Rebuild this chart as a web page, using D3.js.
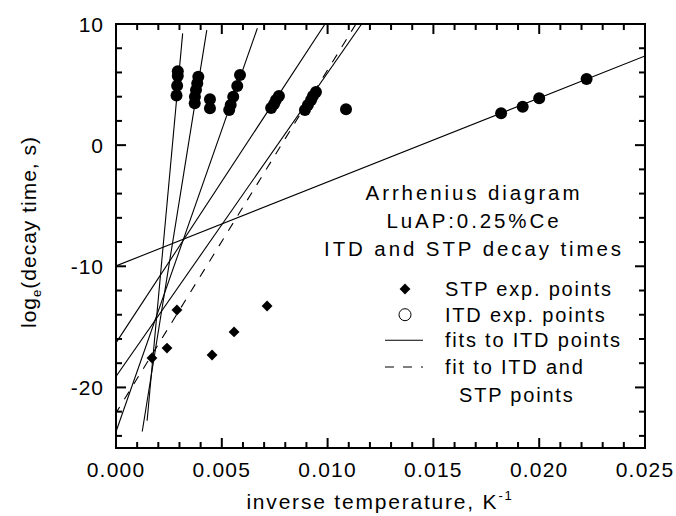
<!DOCTYPE html>
<html><head><meta charset="utf-8">
<script src="https://cdn.jsdelivr.net/npm/d3@7"></script>
<style>
body{margin:0;background:#fff;}
text{font-family:"Liberation Sans",Arial,Helvetica,sans-serif;fill:#000;}
</style></head>
<body><svg id="c" width="676" height="516"></svg>
<script>
// ITD experimental points (inverse temperature, ln(decay time))
const itdX = [0.00292,0.00292,0.00289,0.00286, 0.00389,0.00384,0.00378,0.00373,0.00372, 0.00444,0.00444,
  0.00586,0.00573,0.00554,0.00542,0.00535, 0.00733,0.00747,0.00756,0.00770,
  0.00893,0.00907,0.00922,0.00931,0.00945, 0.01087, 0.01820,0.01922,0.02000,0.02224];
const itdY = [6.1,5.7,4.9,4.1, 5.65,5.1,4.55,4.0,3.45, 3.78,3.04,
  5.79,4.88,4.0,3.31,2.9, 3.07,3.40,3.73,4.06,
  2.9,3.31,3.73,4.06,4.39, 2.96, 2.63,3.17,3.87,5.46];
// STP experimental points
const stpX = [0.0017,0.00241,0.00288,0.00454,0.00558,0.00714];
const stpY = [-17.57,-16.75,-13.61,-17.32,-15.42,-13.28];
// fits to ITD points (segments)
const fitX0 = [0.00315,0.00429,0.00668,0.00988,0.01161,0.0];
const fitY0 = [9.23,9.50,9.65,10.0,10.0,-9.97];
const fitX1 = [0.00147,0.00124,0.0,0.0,0.0,0.025];
const fitY1 = [-22.75,-23.64,-23.66,-16.32,-19.1,7.36];
// fit to ITD and STP points
const dashX = [0.01134,0.0];
const dashY = [10.0,-22.1];
// axes
const xTicks = [0,0.005,0.010,0.015,0.020,0.025];
const yTicks = [10,0,-10,-20];
const legendTitle = ["Arrhenius diagram","LuAP:0.25%Ce","ITD and STP decay times"];
const legendItems = ["STP exp. points","ITD exp. points","fits to ITD points","fit to ITD and","STP points"];

const svg = d3.select("#c");
const L=116,R=645,T=24,B=448;
const x = d3.scaleLinear().domain([0,0.025]).range([L,R]);
const y = d3.scaleLinear().domain([-25,10]).range([B,T]);
const g = svg.append("g");

svg.append("defs").append("clipPath").attr("id","clip").append("rect")
  .attr("x",L).attr("y",T).attr("width",R-L).attr("height",B-T);
const plot = g.append("g").attr("clip-path","url(#clip)");

fitX0.forEach((v,i)=>{
  plot.append("line").attr("x1",x(v)).attr("y1",y(fitY0[i])).attr("x2",x(fitX1[i])).attr("y2",y(fitY1[i]))
    .attr("stroke","#000").attr("stroke-width",1.1);
});
plot.append("line").attr("x1",x(dashX[0])).attr("y1",y(dashY[0])).attr("x2",x(dashX[1])).attr("y2",y(dashY[1]))
  .attr("stroke","#000").attr("stroke-width",1.1).attr("stroke-dasharray","9,9");

const sym = d3.symbol().type(d3.symbolDiamond2).size(75);
plot.selectAll("path.stp").data(stpX).join("path").attr("class","stp")
  .attr("transform",(d,i)=>`translate(${x(d)},${y(stpY[i])})`).attr("d",sym).attr("fill","#000");
plot.selectAll("circle.itd").data(itdX).join("circle").attr("class","itd")
  .attr("cx",d=>x(d)).attr("cy",(d,i)=>y(itdY[i])).attr("r",6).attr("fill","#000");

const fs = 21;
const ax = g.append("g");
ax.append("rect").attr("x",L).attr("y",T).attr("width",R-L).attr("height",B-T)
  .attr("fill","none").attr("stroke","#000").attr("stroke-width",2);
const xMinor = d3.range(0,0.02501,0.001);
xMinor.forEach((v,i)=>{
  const len = (i%5===0)?10:6;
  ax.append("line").attr("x1",x(v)).attr("x2",x(v)).attr("y1",B).attr("y2",B-len).attr("stroke","#000").attr("stroke-width",2);
  ax.append("line").attr("x1",x(v)).attr("x2",x(v)).attr("y1",T).attr("y2",T+len).attr("stroke","#000").attr("stroke-width",2);
});
const yMinor = d3.range(-24,10.01,2);
yMinor.forEach(v=>{
  const len = (Math.abs(v%10)<1e-9)?10:6;
  ax.append("line").attr("x1",L).attr("x2",L+len).attr("y1",y(v)).attr("y2",y(v)).attr("stroke","#000").attr("stroke-width",2);
  ax.append("line").attr("x1",R).attr("x2",R-len).attr("y1",y(v)).attr("y2",y(v)).attr("stroke","#000").attr("stroke-width",2);
});
ax.selectAll("text.xt").data(xTicks).join("text").attr("class","xt")
  .attr("x",d=>x(d)).attr("y",477).attr("text-anchor","middle").attr("font-size",fs)
  .style("letter-spacing","1.2px").text(d=>d3.format(".3f")(d));
ax.selectAll("text.yt").data(yTicks).join("text").attr("class","yt")
  .attr("x",104).attr("y",d=>y(d)+7.5).attr("text-anchor","end").attr("font-size",fs)
  .style("letter-spacing","1px").text(d=>d);

const xt = g.append("text").attr("x",380).attr("y",509).attr("text-anchor","middle").attr("font-size",fs).style("letter-spacing","1.8px");
xt.append("tspan").text("inverse temperature, K");
xt.append("tspan").attr("font-size",13).attr("dy",-9).text("-1");
const yt = g.append("text").attr("transform","translate(36,232) rotate(-90)").attr("text-anchor","middle").attr("font-size",fs).style("letter-spacing","1px");
yt.append("tspan").text("log");
yt.append("tspan").attr("font-size",13).attr("dy",5).text("e");
yt.append("tspan").attr("dy",-5).text("(decay time, s)");

legendTitle.forEach((t,i)=>{
  g.append("text").attr("x",474).attr("y",200+28*i).attr("text-anchor","middle").attr("font-size",20.5)
   .style("letter-spacing","2.9px").text(t);
});
const ly = [296,321.7,347.3,374,401.7];
legendItems.forEach((t,i)=>{
  g.append("text").attr("x",i===4?459:445).attr("y",ly[i]).attr("font-size",20).style("letter-spacing","1.8px").text(t);
});
g.append("path").attr("transform",`translate(405,${ly[0]-7})`).attr("d",sym).attr("fill","#000");
g.append("circle").attr("cx",405).attr("cy",ly[1]-7).attr("r",6).attr("fill","#fff").attr("stroke","#000").attr("stroke-width",1);
g.append("line").attr("x1",385).attr("x2",423).attr("y1",ly[2]-7).attr("y2",ly[2]-7).attr("stroke","#000").attr("stroke-width",1.1);
g.append("line").attr("x1",385).attr("x2",423).attr("y1",ly[3]-7).attr("y2",ly[3]-7).attr("stroke","#000").attr("stroke-width",1.1).attr("stroke-dasharray","9,9");
</script></body></html>
